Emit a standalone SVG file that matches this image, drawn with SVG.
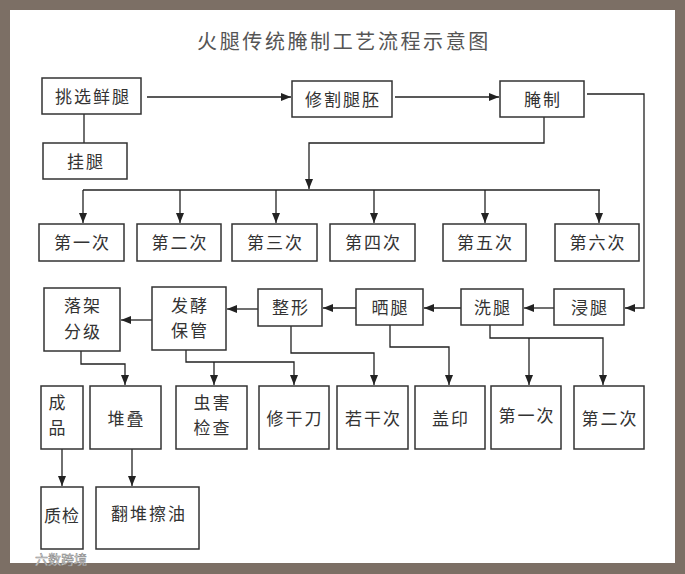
<svg xmlns="http://www.w3.org/2000/svg" width="685" height="574" viewBox="0 0 685 574">
<defs>
<marker id="ah" viewBox="0 0 10 8" refX="10" refY="4" markerWidth="10" markerHeight="8" orient="auto" markerUnits="userSpaceOnUse"><path d="M0,0 L10,4 L0,8 z" fill="#222"/></marker>
<style>
.box{fill:#fff;stroke:#333;stroke-width:1.5}
.lbl{font-family:"Noto Sans CJK SC","Noto Sans CJK JP",sans-serif;font-size:17px;fill:#333;text-anchor:middle;letter-spacing:2px}
.ttl{font-family:"Noto Sans CJK SC","Noto Sans CJK JP",sans-serif;font-size:20px;fill:#555;text-anchor:middle;letter-spacing:2.6px}
.ln{fill:none;stroke:#222;stroke-width:1.3}
.ar{fill:none;stroke:#222;stroke-width:1.3;marker-end:url(#ah)}
</style>
</defs>
<rect x="0" y="0" width="685" height="574" fill="#7c6f65"/>
<rect x="10" y="10" width="665" height="553" fill="#fff"/>
<text class="ttl" x="344" y="49">火腿传统腌制工艺流程示意图</text>

<g id="connectors">
<path class="ar" d="M147,97 H291"/>
<path class="ln" d="M84,114 V143"/>
<path class="ar" d="M395,97 H499"/>
<path class="ar" d="M544,117 V143 H309 V189"/>
<path class="ln" d="M83,190 H600"/>
<path class="ar" d="M83,190 V223"/>
<path class="ar" d="M180,190 V223"/>
<path class="ar" d="M276,190 V223"/>
<path class="ar" d="M374,190 V223"/>
<path class="ar" d="M485,190 V223"/>
<path class="ar" d="M599,190 V223"/>
<path class="ar" d="M587,94 H644 V308 H625"/>
<path class="ar" d="M554,308 H524"/>
<path class="ar" d="M461,308 H424"/>
<path class="ar" d="M356,308 H323"/>
<path class="ar" d="M258,309 H227"/>
<path class="ar" d="M152,320 H121"/>
<path class="ar" d="M81,351 V364 H125 V385"/>
<path class="ar" d="M186,350 V362 H294 V385"/>
<path class="ar" d="M214,362 V385"/>
<path class="ar" d="M291,326 V353 H374 V385"/>
<path class="ar" d="M390,325 V347 H449 V385"/>
<path class="ar" d="M490,325 V338 H603 V385"/>
<path class="ar" d="M529,338 V385"/>
<path class="ar" d="M62,449 V486"/>
<path class="ar" d="M132,449 V486"/>
</g>

<g id="n1"><rect class="box" x="42" y="78" width="99" height="36"/><text class="lbl" x="93" y="102.5">挑选鲜腿</text></g>
<g id="n2"><rect class="box" x="43" y="143" width="84" height="36"/><text class="lbl" x="86" y="167.5">挂腿</text></g>
<g id="n3"><rect class="box" x="292" y="81" width="100" height="36"/><text class="lbl" x="343" y="105.5">修割腿胚</text></g>
<g id="n4"><rect class="box" x="500" y="81" width="84" height="36"/><text class="lbl" x="543" y="105.5">腌制</text></g>

<g id="n5"><rect class="box" x="39" y="224" width="85" height="37"/><text class="lbl" x="82.5" y="249">第一次</text></g>
<g id="n6"><rect class="box" x="137" y="224" width="84" height="37"/><text class="lbl" x="180" y="249">第二次</text></g>
<g id="n7"><rect class="box" x="232" y="224" width="85" height="37"/><text class="lbl" x="275.5" y="249">第三次</text></g>
<g id="n8"><rect class="box" x="330" y="224" width="85" height="37"/><text class="lbl" x="373.5" y="249">第四次</text></g>
<g id="n9"><rect class="box" x="443" y="224" width="83" height="37"/><text class="lbl" x="485.5" y="249">第五次</text></g>
<g id="n10"><rect class="box" x="555" y="224" width="84" height="37"/><text class="lbl" x="598" y="249">第六次</text></g>

<g id="n11"><rect class="box" x="44" y="288" width="76" height="63"/><text class="lbl" x="83" y="311.5">落架</text><text class="lbl" x="83" y="338">分级</text></g>
<g id="n12"><rect class="box" x="152" y="287" width="74" height="63"/><text class="lbl" x="190" y="311.5">发酵</text><text class="lbl" x="190" y="337">保管</text></g>
<g id="n13"><rect class="box" x="258" y="289" width="64" height="37"/><text class="lbl" x="291" y="314">整形</text></g>
<g id="n14"><rect class="box" x="356" y="289" width="67" height="36"/><text class="lbl" x="390.5" y="313.5">晒腿</text></g>
<g id="n15"><rect class="box" x="461" y="289" width="62" height="36"/><text class="lbl" x="493" y="313.5">洗腿</text></g>
<g id="n16"><rect class="box" x="554" y="289" width="70" height="36"/><text class="lbl" x="590" y="313.5">浸腿</text></g>

<g id="n17"><rect class="box" x="41" y="386" width="42" height="63"/><text class="lbl" x="57" y="409" style="letter-spacing:0">成</text><text class="lbl" x="57" y="434" style="letter-spacing:0">品</text></g>
<g id="n18"><rect class="box" x="90" y="386" width="71" height="63"/><text class="lbl" x="126.5" y="424.5">堆叠</text></g>
<g id="n19"><rect class="box" x="176" y="386" width="71" height="63"/><text class="lbl" x="212.5" y="409">虫害</text><text class="lbl" x="212.5" y="434">检查</text></g>
<g id="n20"><rect class="box" x="259" y="386" width="70" height="63"/><text class="lbl" x="295" y="424.5">修干刀</text></g>
<g id="n21"><rect class="box" x="337" y="386" width="71" height="63"/><text class="lbl" x="373.5" y="424.5">若干次</text></g>
<g id="n22"><rect class="box" x="415" y="386" width="70" height="63"/><text class="lbl" x="451" y="424.5">盖印</text></g>
<g id="n23"><rect class="box" x="491" y="386" width="70" height="63"/><text class="lbl" x="527" y="421.5">第一次</text></g>
<g id="n24"><rect class="box" x="574" y="386" width="70" height="63"/><text class="lbl" x="610" y="424.5">第二次</text></g>

<g id="n25"><rect class="box" x="41" y="487" width="42" height="62"/><text class="lbl" x="62" y="521.5" style="letter-spacing:1px">质检</text></g>
<g id="n26"><rect class="box" x="96" y="487" width="103" height="62"/><text class="lbl" x="149" y="519.5">翻堆擦油</text></g>

<text x="35" y="564" style="font-family:'Noto Sans CJK SC',sans-serif;font-size:13px;fill:#e8e8e8;stroke:#8a8a8a;stroke-width:0.5">六数跨境</text>
</svg>
